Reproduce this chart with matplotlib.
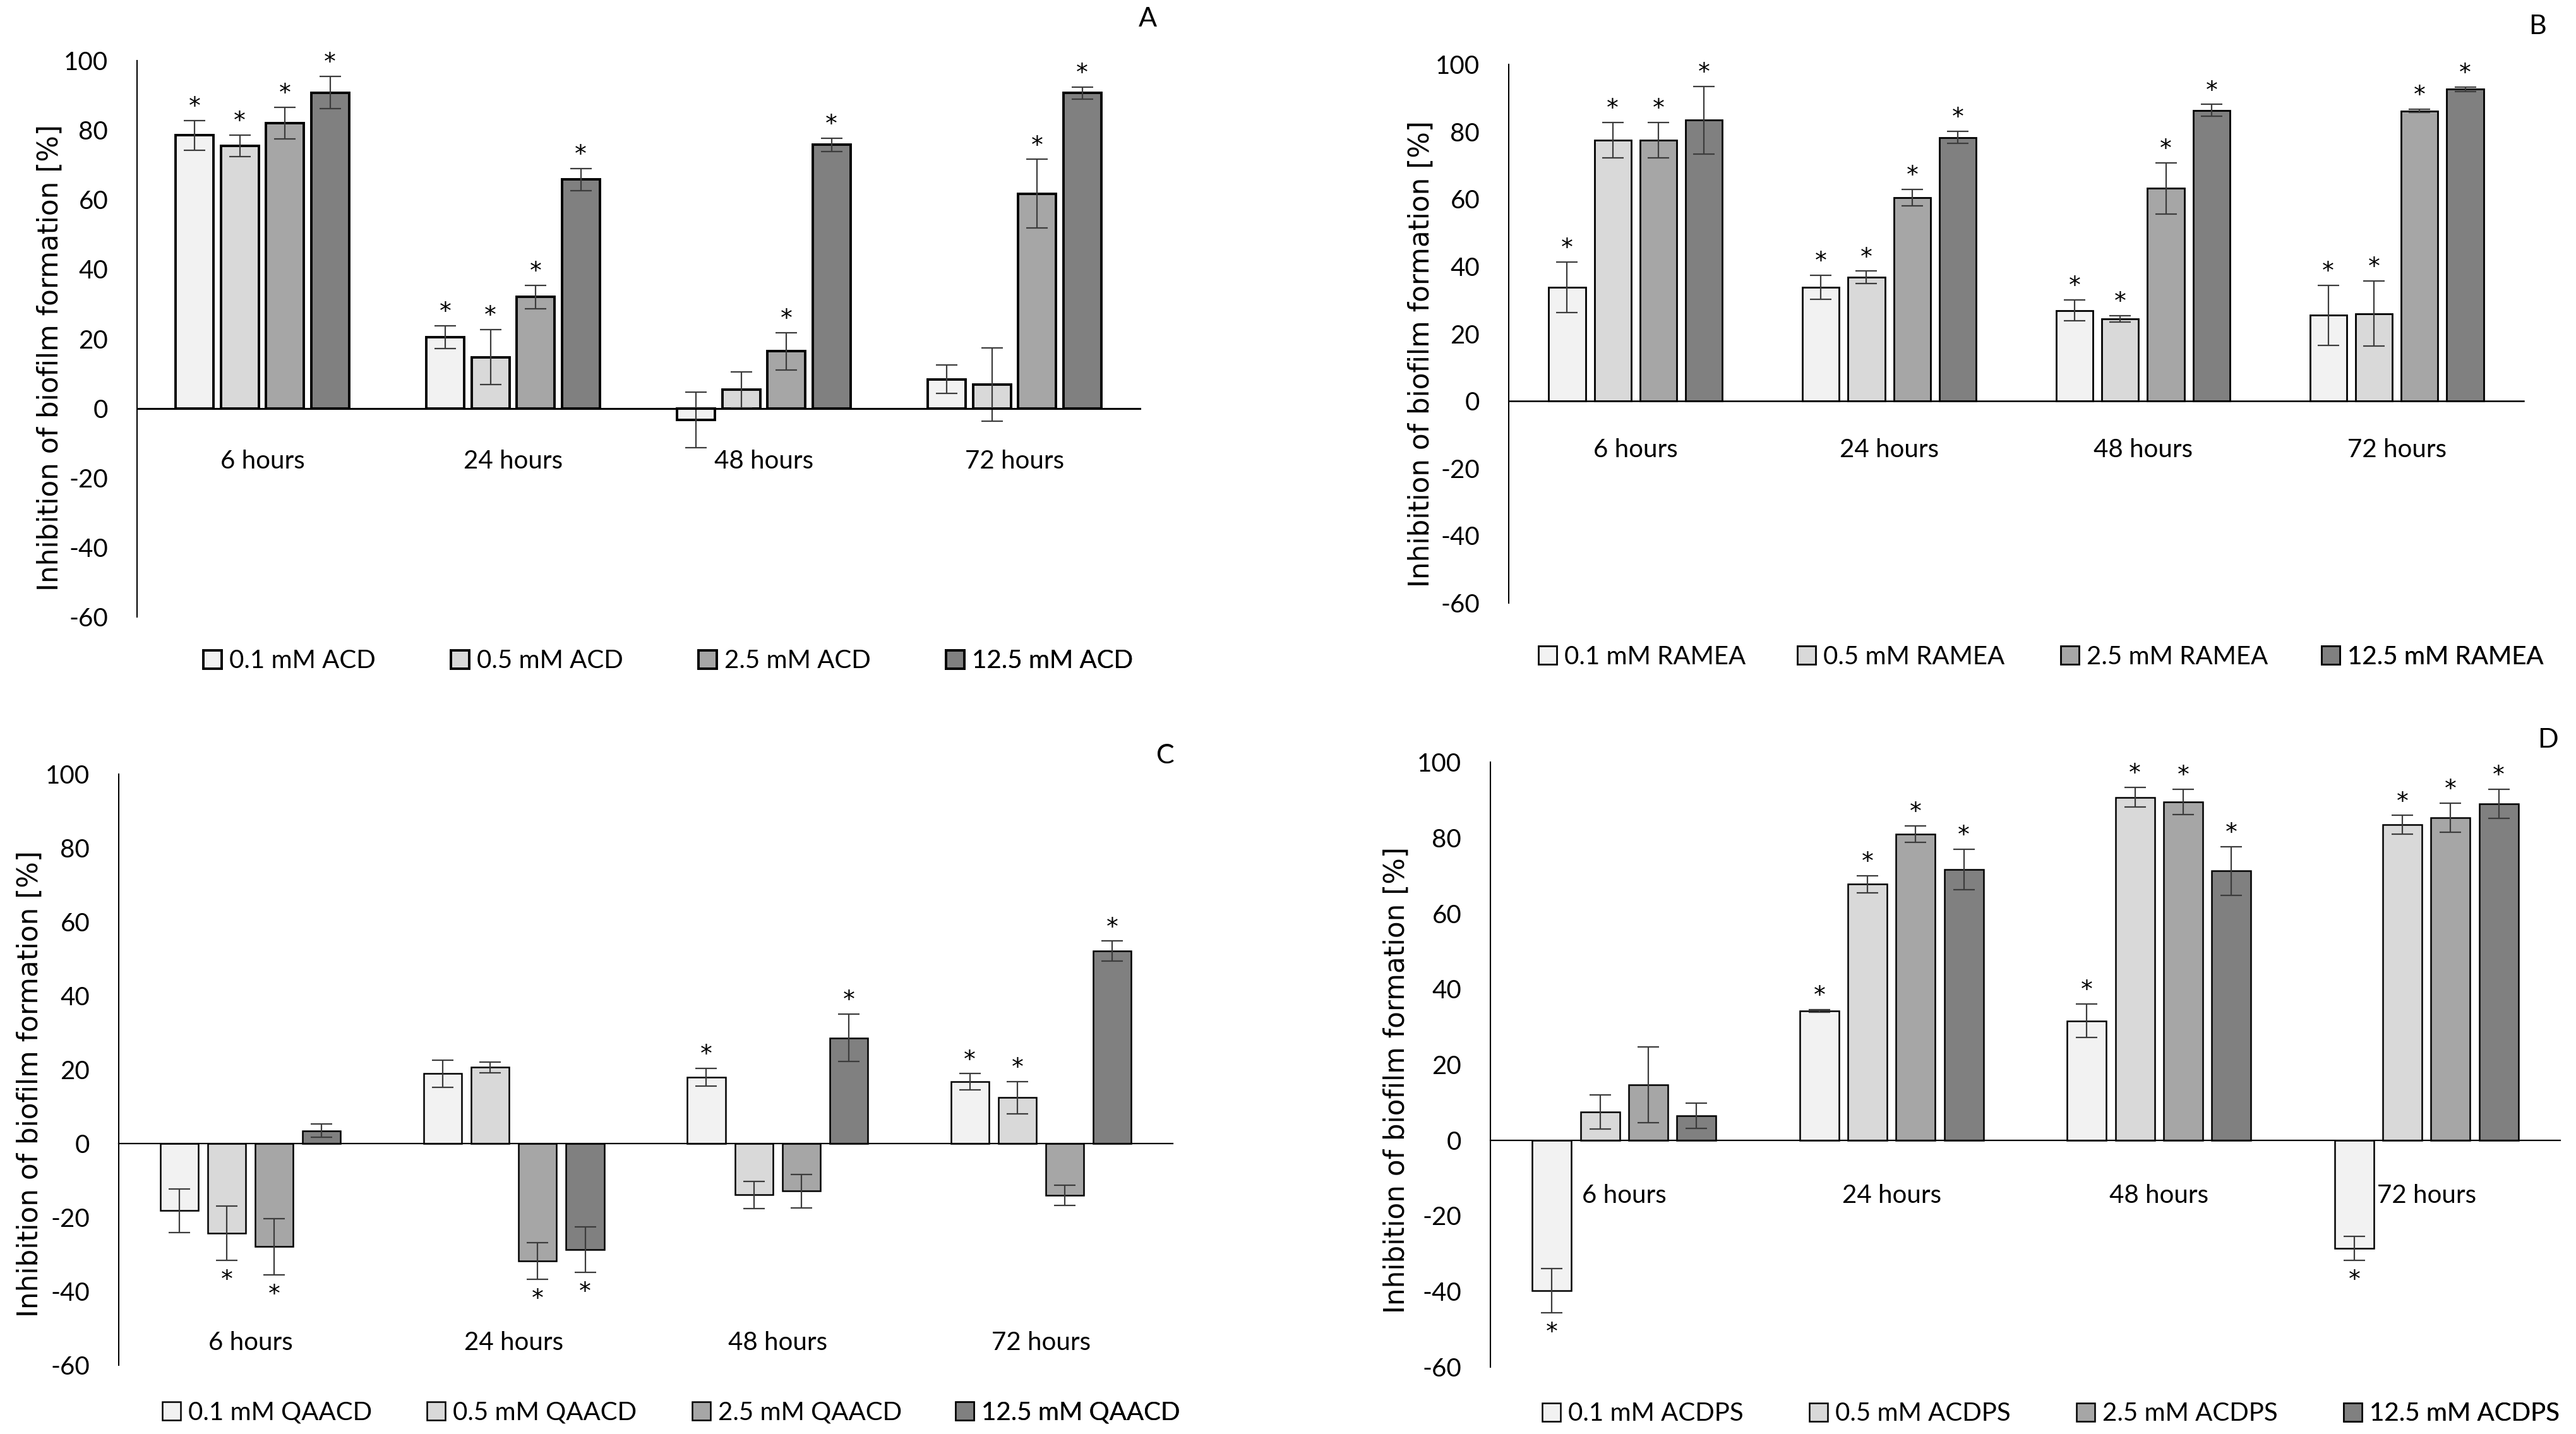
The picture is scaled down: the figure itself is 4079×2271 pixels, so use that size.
# Biofilm inhibition bar charts, four panels (A-D)

import matplotlib
matplotlib.use("Agg")
import matplotlib.pyplot as plt
import numpy as np

plt.rcParams["font.family"] = ["Lato", "DejaVu Sans"]
plt.rcParams["axes.unicode_minus"] = False

W, H, DPI = 4079, 2271, 100

hours = ["6 hours", "24 hours", "48 hours", "72 hours"]
conc = ["0.1 mM", "0.5 mM", "2.5 mM", "12.5 mM"]
colors = ["#f2f2f2", "#d9d9d9", "#a6a6a6", "#808080"]

# rows = concentration, columns = time point
acd_mean = [[78.5, 20.4, -3.4, 8.3],
            [75.5, 14.7, 5.3, 6.8],
            [82.0, 32.0, 16.4, 61.7],
            [90.8, 65.8, 75.8, 90.7]]
acd_err = [[4.3, 3.3, 8.0, 4.1],
           [3.1, 7.9, 5.2, 10.5],
           [4.6, 3.4, 5.4, 9.9],
           [4.6, 3.2, 1.9, 1.7]]
acd_star = [[1, 1, 0, 0],
            [1, 1, 0, 0],
            [1, 1, 1, 1],
            [1, 1, 1, 1]]

ramea_mean = [[33.8, 33.8, 26.9, 25.5],
              [77.5, 36.8, 24.4, 26.0],
              [77.5, 60.4, 63.2, 86.2],
              [83.4, 78.3, 86.4, 92.6]]
ramea_err = [[7.5, 3.6, 3.1, 8.9],
             [5.3, 1.8, 1.0, 9.7],
             [5.3, 2.5, 7.6, 0.5],
             [10.0, 1.8, 1.7, 0.6]]
ramea_star = [[1, 1, 1, 1],
              [1, 1, 1, 1],
              [1, 1, 1, 1],
              [1, 1, 1, 1]]

qaacd_mean = [[-18.2, 18.9, 18.0, 16.7],
              [-24.3, 20.6, -13.9, 12.4],
              [-27.9, -31.8, -12.9, -14.0],
              [3.5, -28.7, 28.6, 52.1]]
qaacd_err = [[5.9, 3.7, 2.4, 2.2],
             [7.4, 1.5, 3.7, 4.3],
             [7.6, 4.9, 4.6, 2.8],
             [1.8, 6.1, 6.4, 2.7]]
qaacd_star = [[0, 0, 1, 1],
              [1, 0, 0, 1],
              [1, 1, 0, 0],
              [0, 1, 1, 1]]

acdps_mean = [[-39.8, 34.2, 31.6, -28.6],
              [7.5, 67.7, 90.7, 83.4],
              [14.7, 81.0, 89.5, 85.3],
              [6.5, 71.6, 71.2, 89.0]]
acdps_err = [[5.8, 0.3, 4.4, 3.2],
             [4.5, 2.2, 2.6, 2.5],
             [10.0, 2.2, 3.4, 3.9],
             [3.3, 5.4, 6.5, 3.8]]
acdps_star = [[1, 1, 1, 1],
              [0, 1, 1, 1],
              [0, 1, 1, 1],
              [0, 1, 1, 1]]

# layout of each panel in pixels of the final image
panels = [
    dict(name="ACD", letter="A", mean=acd_mean, err=acd_err, star=acd_star,
         box=(217, 1805, 96, 977), edge=2.8, zero=2.2, cat_y=0.280,
         ylab=(79, 566), letter_xy=(1817, 30), leg_y=1047,
         leg_x=[322, 714, 1106, 1498], width=0.151),
    dict(name="RAMEA", letter="B", mean=ramea_mean, err=ramea_err, star=ramea_star,
         box=(2389, 3996, 102, 955), edge=2.0, zero=1.8, cat_y=0.284,
         ylab=(2250, 560), letter_xy=(4018, 42), leg_y=1040,
         leg_x=[2436, 2846, 3263, 3676], width=0.145),
    dict(name="QAACD", letter="C", mean=qaacd_mean, err=qaacd_err, star=qaacd_star,
         box=(188, 1857, 1226, 2162), edge=1.8, zero=1.6, cat_y=0.038,
         ylab=(47, 1716), letter_xy=(1845, 1197), leg_y=2237,
         leg_x=[257, 676, 1096, 1513], width=0.144),
    dict(name="ACDPS", letter="D", mean=acdps_mean, err=acdps_err, star=acdps_star,
         box=(2360, 4054, 1207, 2165), edge=1.8, zero=1.6, cat_y=0.283,
         ylab=(2211, 1710), letter_xy=(4035, 1172), leg_y=2239,
         leg_x=[2442, 2865, 3288, 3711], width=0.146),
]

fig = plt.figure(figsize=(W / DPI, H / DPI), dpi=DPI)

FS = 29
x = np.arange(len(hours)) + 0.5
pitch = 0.18

for p in panels:
    x0, x1, ytop, ybot = p["box"]
    ax = fig.add_axes([x0 / W, 1 - ybot / H, (x1 - x0) / W, (ybot - ytop) / H])

    bars = []
    for i in range(len(conc)):
        pos = x + (i - 1.5) * pitch
        mean = np.array(p["mean"][i])
        err = np.array(p["err"][i])
        b = ax.bar(pos, mean, p["width"], yerr=err, color=colors[i],
                   edgecolor="black", linewidth=p["edge"],
                   error_kw=dict(ecolor="#3c3c3c", elinewidth=1.6,
                                 capsize=12, capthick=1.6),
                   label=conc[i] + " " + p["name"], zorder=2)
        bars.append(b)
        for j in range(len(hours)):
            if not p["star"][i][j]:
                continue
            if mean[j] >= 0:
                ax.annotate("*", xy=(pos[j], mean[j] + err[j]), xytext=(0, 15),
                            textcoords="offset points", ha="center", va="center",
                            fontsize=27, family="DejaVu Sans")
            else:
                ax.annotate("*", xy=(pos[j], mean[j] - err[j]), xytext=(0, -23),
                            textcoords="offset points", ha="center", va="center",
                            fontsize=27, family="DejaVu Sans")

    ax.set_xlim(0, 4)
    ax.set_ylim(-60, 100)
    ax.set_yticks(np.arange(-60, 101, 20))
    ax.set_xticks([])
    ax.tick_params(axis="y", length=0, pad=33, labelsize=FS)
    ax.spines["top"].set_visible(False)
    ax.spines["right"].set_visible(False)
    ax.spines["left"].set_linewidth(1.5)
    ax.spines["bottom"].set_position(("data", 0))
    ax.spines["bottom"].set_linewidth(p["zero"])
    ax.spines["bottom"].set_zorder(3)

    for j, h in enumerate(hours):
        ax.text(x[j], p["cat_y"], h, transform=ax.get_xaxis_transform(),
                ha="center", va="center", fontsize=FS)

    fig.text(p["ylab"][0] / W, 1 - p["ylab"][1] / H,
             "Inhibition of biofilm formation [%]", rotation=90,
             ha="center", va="center", fontsize=31.5, family="DejaVu Sans")
    fig.text(p["letter_xy"][0] / W, 1 - p["letter_xy"][1] / H, p["letter"],
             ha="center", va="center", fontsize=31)

    # one legend entry per position, spaced like the original
    for i in range(len(conc)):
        leg = ax.legend([bars[i]], [conc[i] + " " + p["name"]], loc="center left",
                        bbox_to_anchor=(p["leg_x"][i] / W, 1 - p["leg_y"] / H),
                        bbox_transform=fig.transFigure, frameon=False,
                        borderpad=0, borderaxespad=0, fontsize=FS,
                        handlelength=0.72, handleheight=0.72, handletextpad=0.3)
        ax.add_artist(leg)

fig.savefig("out.png", dpi=DPI)
